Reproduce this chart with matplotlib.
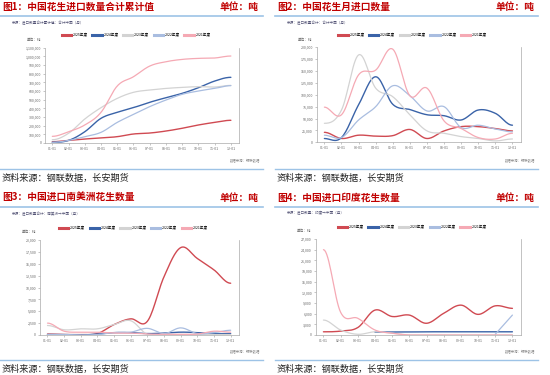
import numpy as np
import matplotlib
matplotlib.use('Agg')
import matplotlib.pyplot as plt
from matplotlib.ticker import FuncFormatter

plt.rcParams['font.family'] = ['Noto Sans CJK SC', 'DejaVu Sans']

W, H = 550, 375

months = ['01-01', '02-01', '03-01', '04-01', '05-01', '06-01',
          '07-01', '08-01', '09-01', '10-01', '11-01', '12-01']
years = ['2025年度', '2024年度', '2023年度', '2022年度', '2021年度']
colors = ['#d04a52', '#3a63a8', '#d3d3d3', '#a9bde0', '#f5a9b4']
widths = [1.0, 1.0, 0.9, 0.9, 0.9]

# fig 1: cumulative imports (t)
cum_2025 = [15000, 30000, 46000, 58000, 73000, 104000, 115000, 138000, 170000, 208000, 238000, 262000]
cum_2024 = [8000, 30000, 130000, 285000, 354000, 408000, 470000, 523000, 573000, 638000, 715000, 758000]
cum_2023 = [38000, 112000, 277000, 408000, 515000, 585000, 612000, 630000, 642000, 650000, 646000, 665000]
cum_2022 = [8000, 30000, 73000, 123000, 238000, 330000, 420000, 496000, 562000, 600000, 630000, 662000]
cum_2021 = [77000, 130000, 208000, 354000, 658000, 765000, 888000, 938000, 965000, 977000, 981000, 1004000]

# fig 2: monthly imports (t)
mon_2025 = [21000, 8000, 15000, 13000, 14000, 27000, 8000, 24000, 33000, 33000, 29000, 24000]
mon_2024 = [8000, 10000, 79000, 138000, 80000, 69000, 58000, 56000, 47000, 68000, 61000, 36000]
mon_2023 = [40000, 68000, 184000, 114000, 96000, 58000, 24000, 19000, 12000, 8000, 3000, 7000]
mon_2022 = [15000, 10000, 47000, 75000, 119000, 98000, 66000, 75000, 31000, 36000, 28000, 22000]
mon_2021 = [74000, 58000, 142000, 152000, 196000, 98000, 114000, 45000, 29000, 10000, 7000, 19000]

# fig 3: imports from South America (t)
sa_2025 = [200, 100, 100, 300, 2200, 3400, 2900, 12300, 18400, 16100, 13700, 10900]
sa_2024 = [100, 100, 0, 200, 500, 500, 300, 400, 600, 500, 300, 300]
sa_2023 = [2000, 1100, 1300, 1300, 2200, 3000, 100, 100, 100, 100, 100, 100]
sa_2022 = [100, 100, 0, 100, 500, 600, 1400, 300, 1500, 300, 500, 1000]
sa_2021 = [2500, 800, 600, 600, 400, 400, 200, 150, 150, 200, 800, 600]

# fig 4: imports from India (t)
in_2025 = [900, 1100, 2100, 7000, 5200, 5600, 3300, 6100, 8400, 5800, 8200, 7500]
in_2024 = [None, None, None, 800, 850, 850, 900, 900, 900, 900, 900, 900]
in_2023 = [4200, 1400, 200, 900, 500, 0, 0, 0, 0, 0, 0, 0]
in_2022 = [None, None, None, None, None, None, None, None, None, None, 200, 5600]
in_2021 = [24000, 6400, 4700, 1400, 500, 0, 0, 0, 0, 0, 0, 0]

panels = [
    dict(title='图1：中国花生进口数量合计累计值', note='来源：进口数量合计累计值：合计中国（月）',
         data=[cum_2025, cum_2024, cum_2023, cum_2022, cum_2021], ymax=1100000, step=100000,
         ox=0, oy=0, ax=(45, 47.7, 239, 143)),
    dict(title='图2：中国花生月进口数量', note='来源：进口数量合计：合计中国（月）',
         data=[mon_2025, mon_2024, mon_2023, mon_2022, mon_2021], ymax=200000, step=25000,
         ox=275, oy=0, ax=(316.7, 47.3, 521, 142.3)),
    dict(title='图3：中国进口南美洲花生数量', note='来源：进口数量合计：南美洲→中国（月）',
         data=[sa_2025, sa_2024, sa_2023, sa_2022, sa_2021], ymax=20000, step=2500,
         ox=0, oy=191, ax=(40, 240, 239, 335)),
    dict(title='图4：中国进口印度花生数量', note='来源：进口数量：印度→中国（月）',
         data=[in_2025, in_2024, in_2023, in_2022, in_2021], ymax=27000, step=3000,
         ox=275, oy=191, ax=(315.7, 239, 521, 335)),
]


def smooth(xs, ys, n=16, k=0.35):
    # cubic bezier through the points (echarts-like smooth), only for drawing
    xs = np.asarray(xs, float)
    ys = np.asarray(ys, float)
    if len(xs) < 3:
        return xs, ys
    m = len(xs)
    dy = np.zeros(m)
    for i in range(1, m - 1):
        dy[i] = (ys[i + 1] - ys[i - 1]) / 2
    ox, oy = [], []
    t = np.linspace(0, 1, n, endpoint=False)
    for i in range(m - 1):
        p0x, p3x = xs[i], xs[i + 1]
        p0y, p3y = ys[i], ys[i + 1]
        c1x, c2x = p0x + k, p3x - k
        c1y = p0y + dy[i] * k
        c2y = p3y - dy[i + 1] * k
        b = [(1 - t) ** 3, 3 * (1 - t) ** 2 * t, 3 * (1 - t) * t ** 2, t ** 3]
        ox.extend(b[0] * p0x + b[1] * c1x + b[2] * c2x + b[3] * p3x)
        oy.extend(b[0] * p0y + b[1] * c1y + b[2] * c2y + b[3] * p3y)
    ox.append(xs[-1])
    oy.append(ys[-1])
    return np.array(ox), np.clip(np.array(oy), 0, None)


def fx(x):
    return x / W


def fy(y):
    return 1 - y / H


fig = plt.figure(figsize=(W / 100, H / 100), dpi=100)
red = '#c00000'
lineblue = '#9dc3e6'

for p in panels:
    ox, oy = p['ox'], p['oy']
    # header
    fig.text(fx(ox + 2), fy(oy + 7), p['title'], color=red, fontsize=7, fontweight='bold', va='center')
    fig.text(fx(ox + 259), fy(oy + 7), '单位：吨', color=red, fontsize=7, fontweight='bold',
             va='center', ha='right')
    fig.add_artist(plt.Line2D([fx(ox), fx(ox + 263)], [fy(oy + 15.5), fy(oy + 15.5)],
                              color=lineblue, lw=1.2))
    fig.text(fx(ox + 12), fy(oy + 22.5), p['note'], color='#555577', fontsize=2.6, va='center')
    # footer
    fig.text(fx(ox + 260), fy(oy + 161), '数据来源：钢联数据', color='#888888', fontsize=2.4,
             va='center', ha='right')
    fig.add_artist(plt.Line2D([fx(ox), fx(ox + 263)], [fy(oy + 168.5), fy(oy + 168.5)],
                              color=lineblue, lw=1.0))
    fig.text(fx(ox + 2), fy(oy + 178), '资料来源：钢联数据，长安期货', color='#222222', fontsize=6.6,
             va='center')

    x0, y0, x1, y1 = p['ax']
    ax = fig.add_axes([fx(x0), fy(y1), fx(x1 - x0), (y1 - y0) / H])
    xs = np.arange(len(months))
    for vals, c, lw, lab in zip(p['data'], colors, widths, years):
        seg_x, seg_y = [], []
        for i, v in enumerate(vals + [None]):
            if v is None:
                if seg_x:
                    sx, sy = smooth(seg_x, seg_y)
                    ax.plot(sx, sy, color=c, lw=lw, solid_capstyle='round')
                seg_x, seg_y = [], []
            else:
                seg_x.append(xs[i])
                seg_y.append(v)
        ax.plot([], [], color=c, lw=2.2, label=lab)
    ax.set_xlim(-0.45, 11.5)
    ax.set_ylim(0, p['ymax'])
    ax.set_yticks(np.arange(0, p['ymax'] + 1, p['step']))
    ax.yaxis.set_major_formatter(FuncFormatter(lambda v, pos: f'{int(v):,}'))
    ax.set_xticks(xs)
    ax.set_xticklabels(months)
    ax.tick_params(labelsize=2.6, colors='#999999', labelcolor='#666666', length=1.2, width=0.4, pad=1.5)
    for s in ('left', 'bottom', 'right'):
        ax.spines[s].set_color('#aaaaaa')
        ax.spines[s].set_linewidth(0.5)
    ax.spines['top'].set_visible(False)
    ax.text(-0.02, 1.06, '单位：吨', transform=ax.transAxes, fontsize=2.6, color='#666666',
            ha='right', va='bottom')
    ax.legend(loc='lower center', bbox_to_anchor=(0.47, 1.09), ncol=5, fontsize=2.6, frameon=False,
              handlelength=2.6, columnspacing=1.2, handletextpad=0.5, borderaxespad=0)

fig.savefig('out.png', dpi=100)
